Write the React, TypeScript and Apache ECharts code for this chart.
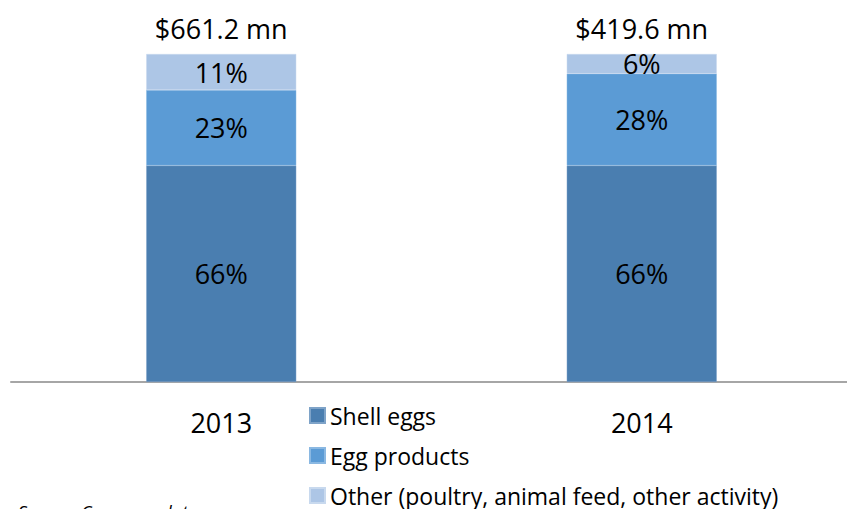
import React, { useEffect, useRef } from "react";
import * as echarts from "echarts";

const years = ["2013", "2014"];
const shellEggs = [66, 66];
const eggProducts = [23, 28];
const other = [11, 6];
const totals = ["$661.2 mn", "$419.6 mn"];
const seriesNames = ["Shell eggs", "Egg products", "Other (poultry, animal feed, other activity)"];

const FONT = "Open Sans";

export default function App() {
  const ref = useRef<HTMLDivElement>(null);
  useEffect(() => {
    document.body.style.margin = "0";
    const chart = echarts.init(ref.current!, null, { renderer: "svg" });
    const pctLabel = {
      show: true,
      position: "inside",
      formatter: (p: any) => `${p.value}%`,
      color: "#000",
      fontFamily: FONT,
      fontSize: 27,
    };
    const common = {
      type: "bar",
      stack: "total",
      barWidth: 150,
      label: pctLabel,
    };
    chart.setOption({
      animation: false,
      backgroundColor: "#fff",
      grid: { left: 11, width: 841, top: 54, bottom: 127, containLabel: false, outerBoundsMode: "none" },
      xAxis: {
        type: "category",
        data: years,
        axisLine: { show: true, lineStyle: { color: "#a6a6a6", width: 2 } },
        axisTick: { show: false },
        axisLabel: { fontFamily: FONT, fontSize: 27, color: "#000", margin: 27 },
      },
      yAxis: { type: "value", min: 0, max: 100, show: false },
      legend: {
        data: seriesNames,
        orient: "vertical",
        left: 309,
        top: 404,
        padding: 0,
        itemWidth: 15,
        itemHeight: 15,
        itemGap: 17,
        icon: "rect",
        textStyle: { fontFamily: FONT, fontSize: 23, color: "#000", lineHeight: 22 },
      },
      series: [
        { ...common, name: seriesNames[0], data: shellEggs, itemStyle: { color: "#4a7eb0", borderColor: "#7ea3c8", borderWidth: 0.5 } },
        { ...common, name: seriesNames[1], data: eggProducts, itemStyle: { color: "#5b9bd5", borderColor: "#8ab8e2", borderWidth: 0.5 } },
        { ...common, name: seriesNames[2], data: other, itemStyle: { color: "#adc6e6", borderColor: "#c8d9ee", borderWidth: 0.5 } },
        {
          type: "bar",
          stack: "total",
          name: "Total",
          barWidth: 150,
          data: [0, 0],
          itemStyle: { color: "transparent" },
          label: {
            show: true,
            position: "top",
            distance: 12,
            formatter: (p: any) => totals[p.dataIndex],
            color: "#000",
            fontFamily: FONT,
            fontSize: 27,
          },
        },
      ],
      graphic: [
        {
          type: "text",
          left: 18,
          top: 503,
          style: {
            text: "Source: Company data",
            fontFamily: FONT,
            fontStyle: "italic",
            fontSize: 18,
            fill: "#000",
          },
        },
      ],
    });
    return () => chart.dispose();
  }, []);
  return <div ref={ref} style={{ width: 847, height: 509 }} />;
}
